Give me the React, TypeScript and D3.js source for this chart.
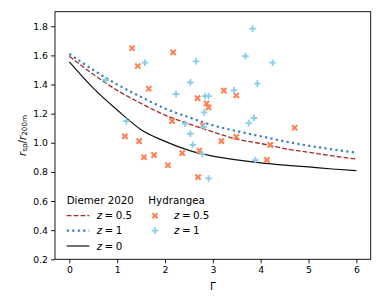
import React, { useRef, useEffect } from 'react'
import * as d3 from 'd3'

// Diemer 2020 model curves at these Gamma values
const gammaGrid = [0, 0.5, 1, 1.5, 2, 2.5, 3, 3.5, 4, 4.5, 5, 5.5, 6]
const diemerZ0 = [1.555, 1.375, 1.225, 1.09, 1.01, 0.948, 0.908, 0.882, 0.862, 0.847, 0.834, 0.82, 0.808]
const diemerZ05 = [1.594, 1.47, 1.36, 1.27, 1.19, 1.13, 1.075, 1.025, 0.995, 0.96, 0.935, 0.91, 0.888]
const diemerZ1 = [1.61, 1.5, 1.4, 1.315, 1.235, 1.175, 1.12, 1.08, 1.045, 1.01, 0.98, 0.955, 0.932]

// Hydrangea clusters
const hydZ05Gamma = [1.31, 1.43, 1.66, 1.16, 1.46, 1.56, 1.77, 2.06, 2.17, 2.15, 2.36, 2.68, 2.79, 2.72, 2.69, 2.87, 2.91, 3.23, 3.18, 3.49, 3.49, 4.2, 4.13, 4.71]
const hydZ05Ratio = [1.649, 1.527, 1.371, 1.044, 1.011, 0.901, 0.915, 0.846, 1.621, 1.149, 0.929, 1.307, 1.119, 0.947, 0.764, 1.27, 1.243, 1.358, 1.011, 1.325, 1.041, 0.986, 0.883, 1.103]
const hydZ1Gamma = [0.76, 1.19, 1.58, 2.65, 2.53, 2.23, 2.42, 2.53, 2.58, 2.78, 2.84, 2.91, 2.82, 2.81, 2.91, 3.44, 3.83, 3.68, 4.25, 3.93, 3.86, 3.75, 3.89]
const hydZ1Ratio = [1.431, 1.149, 1.55, 1.559, 1.415, 1.335, 1.131, 1.062, 0.986, 0.924, 1.321, 1.321, 1.209, 1.108, 0.755, 1.36, 1.784, 1.594, 1.55, 1.406, 1.17, 1.135, 0.881]

const xTicks = [0, 1, 2, 3, 4, 5, 6]
const yTicks = [0.2, 0.4, 0.6, 0.8, 1.0, 1.2, 1.4, 1.6, 1.8]

const FONT = 'DejaVu Sans'
const RED = '#a52a2a'
const BLUE = '#3b7ec1'
const ORANGE = '#ff7f50'
const SKY = '#87ceeb'
const xPath = 'M-2.6,-2.6L2.6,2.6M-2.6,2.6L2.6,-2.6'
const plusPath = 'M-3.3,0H3.3M0,-3.3V3.3'

const App: React.FC = () => {
  const svgRef = useRef<SVGSVGElement>(null)

  useEffect(() => {
    if (!svgRef.current) return
    const svg = d3.select(svgRef.current)
    svg.selectAll('*').remove()

    const W = 382
    const H = 306
    const margin = { top: 11.7, right: 11.3, bottom: 46.7, left: 55 }
    const width = W - margin.left - margin.right
    const height = H - margin.top - margin.bottom

    svg.attr('width', W).attr('height', H)
    const g = svg.append('g').attr('transform', `translate(${margin.left},${margin.top})`)

    const x = d3.scaleLinear().domain([-0.3, 6.3]).range([0, width])
    const y = d3.scaleLinear().domain([0.2, 1.9]).range([height, 0])

    // model curves
    const line = d3.line<[number, number]>()
      .x(d => x(d[0]))
      .y(d => y(d[1]))
      .curve(d3.curveMonotoneX)

    const curves = [
      { vals: diemerZ05, color: RED, width: 1.3, dash: '4.8,2.1' },
      { vals: diemerZ1, color: BLUE, width: 2.2, dash: '2.2,3.3' },
      { vals: diemerZ0, color: '#111', width: 1.2, dash: null }
    ]
    curves.forEach(c => {
      g.append('path')
        .datum(gammaGrid.map((gm, i) => [gm, c.vals[i]] as [number, number]))
        .attr('d', line)
        .attr('fill', 'none')
        .attr('stroke', c.color)
        .attr('stroke-width', c.width)
        .attr('stroke-dasharray', c.dash)
    })

    // scatter
    g.selectAll('.z05')
      .data(hydZ05Gamma.map((gm, i) => [gm, hydZ05Ratio[i]]))
      .enter()
      .append('path')
      .attr('d', xPath)
      .attr('transform', d => `translate(${x(d[0])},${y(d[1])})`)
      .attr('stroke', ORANGE)
      .attr('stroke-width', 2)
      .attr('fill', 'none')

    g.selectAll('.z1')
      .data(hydZ1Gamma.map((gm, i) => [gm, hydZ1Ratio[i]]))
      .enter()
      .append('path')
      .attr('d', plusPath)
      .attr('transform', d => `translate(${x(d[0])},${y(d[1])})`)
      .attr('stroke', SKY)
      .attr('stroke-width', 1.8)
      .attr('fill', 'none')

    // axes
    const xAxis = g.append('g')
      .attr('transform', `translate(0,${height})`)
      .call(d3.axisBottom(x).tickValues(xTicks).tickSize(4).tickPadding(3).tickSizeOuter(0).tickFormat(d3.format('d')))
    const yAxis = g.append('g')
      .call(d3.axisLeft(y).tickValues(yTicks).tickSize(4).tickPadding(3).tickSizeOuter(0).tickFormat(d3.format('.1f')))
    ;[xAxis, yAxis].forEach(a => {
      a.select('.domain').remove()
      a.attr('font-family', FONT).attr('font-size', 9.3)
      a.selectAll('text').attr('fill', '#000')
      a.selectAll('line').attr('stroke', '#000').attr('stroke-width', 0.9)
    })

    g.append('rect')
      .attr('width', width)
      .attr('height', height)
      .attr('fill', 'none')
      .attr('stroke', '#000')
      .attr('stroke-width', 0.9)

    // axis labels
    g.append('text')
      .attr('x', width / 2)
      .attr('y', height + 31)
      .attr('text-anchor', 'middle')
      .attr('font-family', FONT)
      .attr('font-size', 10.3)
      .text('Γ')

    const yl = svg.append('text')
      .attr('transform', `translate(25.5,${margin.top + height / 2}) rotate(-90)`)
      .attr('text-anchor', 'middle')
      .attr('font-family', FONT)
      .attr('font-size', 10.3)
    yl.append('tspan').attr('font-style', 'italic').text('r')
    yl.append('tspan').attr('font-size', 7.2).attr('dy', 1.6).text('sp')
    yl.append('tspan').attr('dy', -1.6).text('/')
    yl.append('tspan').attr('font-style', 'italic').text('r')
    yl.append('tspan').attr('font-size', 7.2).attr('dy', 1.6).text('200m')

    // legend
    const leg = svg.append('g').attr('font-family', FONT).attr('font-size', 10.3)
    leg.append('text').attr('x', 66.7).attr('y', 203.7).text('Diemer 2020')
    leg.append('text').attr('x', 148.3).attr('y', 203.7).text('Hydrangea')

    const addLabel = (lx: number, ly: number, val: string) => {
      const t = leg.append('text').attr('x', lx).attr('y', ly + 3.7)
      t.append('tspan').attr('font-style', 'italic').text('z')
      t.append('tspan').attr('dx', 2.5).text('=')
      t.append('tspan').attr('dx', 2.5).text(val)
    }

    const rows = [215.7, 230.6, 246]
    const lineEntries = [
      { c: curves[0], label: '0.5' },
      { c: curves[1], label: '1' },
      { c: curves[2], label: '0' }
    ]
    lineEntries.forEach((e, i) => {
      leg.append('line')
        .attr('x1', 66.7).attr('x2', 89.3)
        .attr('y1', rows[i]).attr('y2', rows[i])
        .attr('stroke', e.c.color)
        .attr('stroke-width', e.c.width)
        .attr('stroke-dasharray', e.c.dash)
      addLabel(96.7, rows[i], e.label)
    })

    leg.append('path').attr('d', xPath)
      .attr('transform', `translate(155,${rows[0]})`)
      .attr('stroke', ORANGE).attr('stroke-width', 2).attr('fill', 'none')
    addLabel(174, rows[0], '0.5')
    leg.append('path').attr('d', plusPath)
      .attr('transform', `translate(155,${rows[1]})`)
      .attr('stroke', SKY).attr('stroke-width', 1.8).attr('fill', 'none')
    addLabel(174, rows[1], '1')
  }, [])

  return (
    <svg ref={svgRef} style={{ position: 'absolute', left: 0, top: 0, background: '#fff' }}></svg>
  )
}

export default App
